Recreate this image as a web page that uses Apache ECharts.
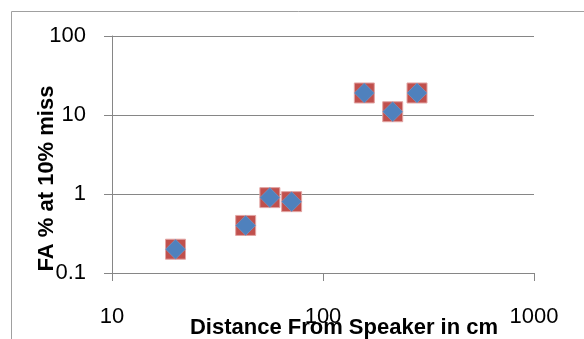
<!DOCTYPE html>
<html>
<head>
<meta charset="utf-8">
<script src="https://cdn.jsdelivr.net/npm/echarts@6/dist/echarts.min.js"></script>
<style>
html,body{margin:0;padding:0;background:#fff;}
#chart{width:584px;height:339px;}
</style>
</head>
<body>
<div id="chart"></div>
<script>
// Data
var distances = [20, 43, 56, 71, 157, 214, 279];
var faValues = [0.2, 0.4, 0.9, 0.8, 19, 11, 19];
var xTicks = [10, 100, 1000];
var yTicks = [0.1, 1, 10, 100];
var xTitle = 'Distance From Speaker in cm';
var yTitle = 'FA % at 10% miss';

var points = distances.map(function (d, i) { return [d, faValues[i]]; });
var axisColor = '#868686';
var font = 'Liberation Sans';

var chart = echarts.init(document.getElementById('chart'), null, {renderer: 'canvas'});
chart.setOption({
  animation: false,
  backgroundColor: '#fff',
  graphic: [{
    type: 'rect',
    shape: {x: 11.5, y: 11.5, width: 700, height: 500},
    style: {fill: 'none', stroke: '#a0a0a0', lineWidth: 1},
    silent: true,
    z: -10
  }],
  grid: {left: 112, right: 50, top: 36, bottom: 66, containLabel: false, outerBoundsMode: 'none'},
  xAxis: {
    type: 'log', logBase: 10, min: xTicks[0], max: xTicks[xTicks.length - 1],
    name: xTitle, nameLocation: 'middle', nameGap: 44, nameMoveOverlap: false,
    nameTextStyle: {fontFamily: font, fontWeight: 'bold', fontSize: 22, color: '#000', padding: [0, 0, 0, 42]},
    axisLine: {show: true, lineStyle: {color: axisColor, width: 1}},
    axisTick: {show: true, length: 8, lineStyle: {color: axisColor}},
    splitLine: {show: false},
    minorTick: {show: false},
    axisLabel: {fontFamily: font, fontSize: 22, color: '#000', margin: 33,
      formatter: function (v) { return String(+v.toPrecision(6)); }}
  },
  yAxis: {
    type: 'log', logBase: 10, min: yTicks[0], max: yTicks[yTicks.length - 1],
    name: yTitle, nameLocation: 'middle', nameGap: 54, nameRotate: 90, nameMoveOverlap: false,
    nameTextStyle: {fontFamily: font, fontWeight: 'bold', fontSize: 22, color: '#000', padding: [0, 48, 0, 0]},
    axisLine: {show: true, lineStyle: {color: axisColor, width: 1}},
    axisTick: {show: true, length: 8, lineStyle: {color: axisColor}},
    splitLine: {show: true, lineStyle: {color: axisColor, width: 1}},
    axisLabel: {fontFamily: font, fontSize: 22, color: '#000', margin: 26,
      formatter: function (v) { return String(+v.toPrecision(6)); }}
  },
  series: [{
    type: 'scatter',
    data: points,
    symbol: 'rect',
    symbolSize: 20,
    itemStyle: {color: '#C0504D', borderColor: '#E2A5A3', borderWidth: 1, opacity: 1},
    z: 2
  }, {
    type: 'scatter',
    data: points,
    symbol: 'diamond',
    symbolSize: 20,
    itemStyle: {color: '#4F81BD', borderColor: '#7FA3CF', borderWidth: 0.5, opacity: 1},
    z: 3
  }]
});
</script>
</body>
</html>
